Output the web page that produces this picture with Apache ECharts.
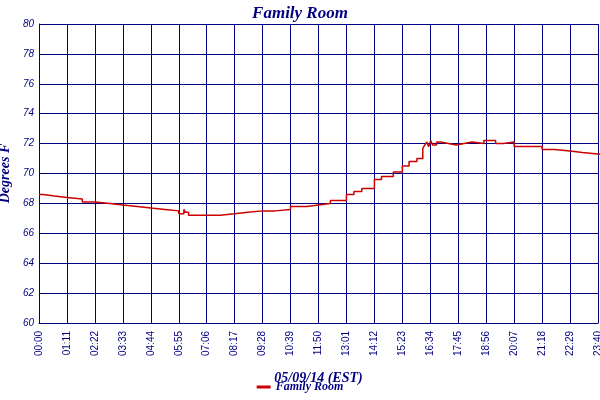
<!DOCTYPE html>
<html><head><meta charset="utf-8">
<script src="https://cdn.jsdelivr.net/npm/echarts@6/dist/echarts.min.js"></script>
<style>html,body{margin:0;background:#fff}#main{width:600px;height:400px}</style>
</head><body><div id="main"></div>
<script>
// minutes since midnight and temperature (deg F)
const minutes = [0, 10, 40, 71, 110, 142, 180, 213, 250, 284, 320, 355, 368, 372, 380, 400, 426, 460, 497, 530, 568, 600, 639, 680, 710, 740, 781, 800, 820, 852, 870, 900, 923, 940, 960, 975, 980, 985, 990, 995, 1000, 1010, 1020, 1040, 1060, 1080, 1100, 1130, 1160, 1180, 1207, 1240, 1278, 1310, 1349, 1380, 1420, 1431];
const temps   = [68.6, 68.5, 68.4, 68.3, 68.1, 68.0, 67.9, 67.8, 67.7, 67.6, 67.5, 67.3, 67.6, 67.4, 67.2, 67.2, 67.2, 67.3, 67.4, 67.5, 67.5, 67.6, 67.8, 67.9, 68.0, 68.2, 68.6, 68.8, 69.0, 69.6, 69.8, 70.1, 70.5, 70.8, 71.0, 71.7, 71.9, 72.1, 71.8, 72.2, 71.9, 72.1, 72.0, 71.9, 72.0, 72.1, 72.0, 72.2, 72.0, 72.1, 71.8, 71.8, 71.6, 71.5, 71.4, 71.3, 71.3, 71.3];
const seriesName = "Family Room";
const navy = "#000080";
const fontFam = "'Liberation Serif', serif";

const fmt = v => {
  const h = Math.floor(v / 60), m = v % 60;
  return String(h).padStart(2, "0") + ":" + String(m).padStart(2, "0");
};

const chart = echarts.init(document.getElementById("main"));
chart.setOption({
  animation: false,
  backgroundColor: "#fff",
  title: { text: "Family Room", left: "center", top: 0,
    textStyle: { color: navy, fontFamily: fontFam, fontStyle: "italic", fontWeight: "bold", fontSize: 17 } },
  grid: { left: 39, right: 2, top: 24, bottom: 77, outerBoundsMode: "none", containLabel: false },
  legend: { bottom: 2, left: "center", itemWidth: 14, itemHeight: 3, icon: "rect",
    textStyle: { color: navy, fontFamily: fontFam, fontStyle: "italic", fontWeight: "bold", fontSize: 12 } },
  xAxis: {
    type: "value", min: 0, max: 1420, interval: 71,
    name: "05/09/14 (EST)", nameLocation: "middle", nameGap: 48,
    nameTextStyle: { color: navy, fontFamily: fontFam, fontStyle: "italic", fontWeight: "bold", fontSize: 14 },
    axisLine: { lineStyle: { color: navy } }, axisTick: { show: false },
    axisLabel: { rotate: 90, color: navy, fontSize: 10, fontFamily: "Liberation Sans", formatter: fmt,
      showMaxLabel: true, hideOverlap: false, interval: 0 },
    splitLine: { lineStyle: { color: navy, width: 1 } }
  },
  yAxis: {
    type: "value", min: 60, max: 80, interval: 2,
    name: "Degrees F", nameLocation: "middle", nameGap: 24,
    nameTextStyle: { color: navy, fontFamily: fontFam, fontStyle: "italic", fontWeight: "bold", fontSize: 14 },
    axisLine: { show: true, lineStyle: { color: navy } }, axisTick: { show: false },
    axisLabel: { color: navy, fontSize: 10, fontStyle: "italic", fontFamily: "Liberation Sans", margin: 5 },
    splitLine: { lineStyle: { color: navy, width: 1 } }
  },
  series: [{
    name: seriesName, type: "line", step: "end", showSymbol: false,
    lineStyle: { color: "#cc0000", width: 1.5 }, itemStyle: { color: "#cc0000" },
    data: minutes.map((m, i) => [m, temps[i]])
  }]
});
</script></body></html>
